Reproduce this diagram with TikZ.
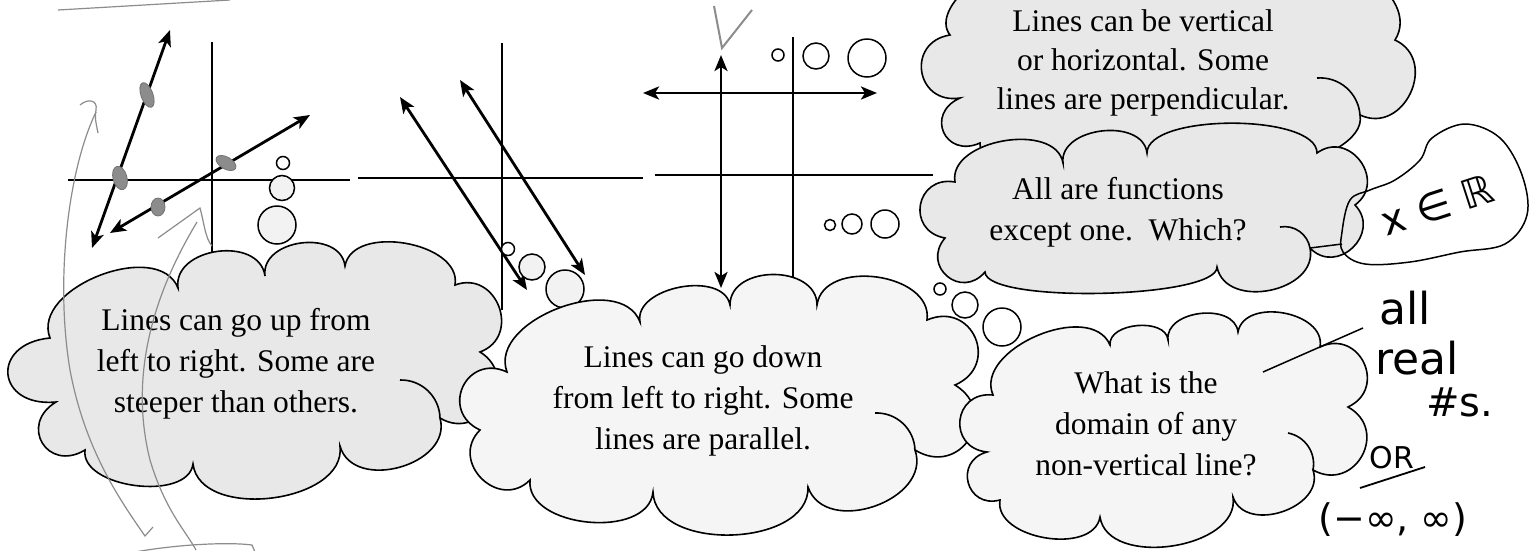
\documentclass[tikz,border=0pt]{standalone}
\usepackage{fontspec}
\setmainfont{Liberation Serif}
\newfontfamily\handfont{DejaVu Sans}
\usetikzlibrary{arrows.meta}
\tikzset{
  axisline/.style={line width=2.8pt},
  dbl/.style={line width=2.8pt,{Stealth[length=16pt,width=13pt,inset=4pt]}-{Stealth[length=16pt,width=13pt,inset=4pt]}},
  bubble/.style={circle,draw,line width=1.5pt,fill=black!5,inner sep=0pt},
  lobe/.style={bend left=90,looseness=#1},
  cloudline/.style={draw,line width=1.6pt,line join=miter},
  gray cloud/.style={cloudline,fill=black!9},
  light cloud/.style={cloudline,fill=black!4},
  innerarc/.style={draw,line width=1.6pt,bend left=45},
  say/.style={font=\fontsize{31.5}{41}\selectfont,align=center,inner sep=0pt},
  pencil/.style={draw=black!45,line width=1.2pt},
  ink/.style={font=\handfont\fontsize{40}{44}\selectfont,inner sep=0pt}
}
\begin{document}
\begin{tikzpicture}[x=1pt,y=-1pt]
\useasboundingbox (0,0) rectangle (1535,550);
\clip (0,0) rectangle (1535,550);
\fill[white] (0,0) rectangle (1535,550);

% ---------- axes ----------
\coordinate (x1a) at (68,180);  \coordinate (x1b) at (350,180);
\coordinate (x2a) at (358,178); \coordinate (x2b) at (643,178);
\coordinate (x3a) at (655,175); \coordinate (x3b) at (933,175);
\coordinate (y1a) at (212,42);  \coordinate (y1b) at (212,262);
\coordinate (y2a) at (502,43);  \coordinate (y2b) at (502,310);
\coordinate (y3a) at (793,37);  \coordinate (y3b) at (793,295);
\draw[axisline] (x1a) -- (x1b);
\draw[axisline] (x2a) -- (x2b);
\draw[axisline] (x3a) -- (x3b);
\draw[axisline] (y1a) -- (y1b);
\draw[axisline] (y2a) -- (y2b);
\draw[axisline] (y3a) -- (y3b);

% ---------- graph 1 lines ----------
\coordinate (s1a) at (92,248);  \coordinate (s1b) at (170,30);
\coordinate (s2a) at (110,233); \coordinate (s2b) at (310,115);
\draw[dbl] (s1a) -- (s1b);
\draw[dbl] (s2a) -- (s2b);
\fill[black!45,draw=black!55,line width=0.8pt,rotate around={20:(147,95)}] (147,95) ellipse [x radius=6, y radius=13];
\fill[black!45,draw=black!55,line width=0.8pt,rotate around={15:(120,178)}] (120,178) ellipse [x radius=7, y radius=12];
\fill[black!45,draw=black!55,line width=0.8pt,rotate around={-30:(226,163)}] (226,163) ellipse [x radius=11, y radius=6];
\fill[black!45,draw=black!55,line width=0.8pt] (158,207) ellipse [x radius=7, y radius=9];

% ---------- graph 2 lines ----------
\coordinate (d1a) at (400,97);  \coordinate (d1b) at (527,290);
\coordinate (d2a) at (460,80);  \coordinate (d2b) at (585,275);
\draw[dbl] (d1a) -- (d1b);
\draw[dbl] (d2a) -- (d2b);

% ---------- graph 3 lines ----------
\coordinate (h1a) at (643,93);  \coordinate (h1b) at (877,93);
\coordinate (v1a) at (721,55);  \coordinate (v1b) at (721,288);
\draw[dbl] (h1a) -- (h1b);
\draw[dbl] (v1a) -- (v1b);

% ---------- thought bubbles ----------
\node[bubble,fill=white,minimum size=13pt] (b11) at (283,163) {};
\node[bubble,minimum size=25pt] (b12) at (282,188) {};
\node[bubble,minimum size=38pt] (b13) at (277,225) {};
\node[bubble,fill=white,minimum size=13pt] (b21) at (508,249) {};
\node[bubble,minimum size=26pt] (b22) at (532,267) {};
\node[bubble,minimum size=38pt] (b23) at (565,289) {};
\node[bubble,fill=white,minimum size=12pt] (b31) at (778,55) {};
\node[bubble,fill=white,minimum size=26pt] (b32) at (816,56) {};
\node[bubble,fill=white,minimum size=38pt] (b33) at (867,58) {};
\node[bubble,fill=white,minimum size=11pt] (b41) at (830,225) {};
\node[bubble,fill=white,minimum size=20pt] (b42) at (852,224) {};
\node[bubble,fill=white,minimum size=28pt] (b43) at (885,224) {};
\node[bubble,fill=white,minimum size=12pt] (b51) at (940,289) {};
\node[bubble,fill=white,minimum size=26pt] (b52) at (965,305) {};
\node[bubble,fill=white,minimum size=38pt] (b53) at (1002,327) {};

% ---------- clouds ----------
% C1
\path[gray cloud] (50,338) to[lobe=1] (178,288) to[lobe=1.2] (265,276) to[lobe=1.2] (345,266)
  to[lobe=1] (455,285) to[lobe=1.6] (480,352) to[lobe=1.6] (440,418) to[lobe=1.2] (340,446)
  to[lobe=1] (193,464) to[lobe=0.9] (85,450) to[lobe=2] (56,402) to[lobe=2.4] cycle;
\path[innerarc] (400,380) to (440,418);
% C2
\path[light cloud] (507,372) to[lobe=1] (640,322) to[lobe=1] (730,305) to[lobe=1.2] (817,305)
  to[lobe=1.1] (927,320) to[lobe=1.8] (955,385) to[lobe=1.8] (915,450) to[lobe=1.2] (808,487)
  to[lobe=1] (653,492) to[lobe=1] (530,480) to[lobe=1.6] (480,430) to[lobe=1.8] cycle;
\path[innerarc] (875,413) to (915,450);
% C5
\path[light cloud] (993,395) to[lobe=1] (1110,345) to[lobe=1] (1168,340) to[lobe=1.1] (1238,332)
  to[lobe=1.1] (1320,347) to[lobe=1.7] (1348,407) to[lobe=1.7] (1313,470) to[lobe=1.2] (1233,497)
  to[lobe=1] (1100,517) to[lobe=1] (1000,500) to[lobe=1.8] (987,452) to[lobe=1.8] cycle;
\path[innerarc] (1288,433) to (1313,470);
% C3
\path[gray cloud] (950,35) to[lobe=1] (1020,-20) to[lobe=0.6] (1300,-20) to[lobe=1.2] (1395,40)
  to[lobe=1.5] (1360,115) to[lobe=0.7] (1180,150) to[lobe=0.7] (980,143) to[lobe=2] (960,98)
  to[lobe=1.8] cycle;
\path[innerarc] (1317,78) to (1360,115);
% C4
\path[gray cloud] (955,182) to[lobe=1] (1063,163) to[lobe=1.1] (1147,153) to[lobe=0.6] (1317,153)
  to[lobe=1.6] (1355,205) to[lobe=1.6] (1310,248) to[lobe=1.2] (1217,267) to[lobe=0.35] (985,272)
  to[lobe=1.8] (945,238) to[lobe=1.8] cycle;
\path[innerarc] (1280,227) to (1310,248);

\node[say] (t1) at (236,364) {Lines can go up from\\left to right. Some are\\steeper than others.};
\node[say] (t2) at (703,401) {Lines can go down\\from left to right. Some\\lines are parallel.};
\node[say,font=\fontsize{31.5}{39}\selectfont] (t3) at (1143,63) {Lines can be vertical\\or horizontal. Some\\lines are perpendicular.};
\node[say] (t4) at (1118,212) {All are functions\\except one.\ \ Which?};
\node[say] (t5) at (1146,424) {What is the\\domain of any\\non-vertical line?};

% ---------- pencil annotations ----------
\draw[pencil] (58,10) -- (230,0);
\draw[pencil,line width=2pt] (714,6) -- (722,48) -- (752,10);
\draw[pencil] (80,105) .. controls (88,98) and (98,100) .. (96,110) .. controls (95,118) .. (98,133);
\draw[pencil] (96,112) .. controls (68,170) and (55,280) .. (70,370) .. controls (85,450) and (120,500) .. (145,536) -- (153,527);
\draw[pencil] (158,238) -- (200,208) .. controls (204,222) and (205,238) .. (212,246);
\draw[pencil] (197,222) .. controls (150,300) and (130,380) .. (150,460) .. controls (165,510) and (185,530) .. (196,550);
\draw[pencil] (135,552) .. controls (180,544) and (230,542) .. (252,545) -- (255,552);

% ---------- ink annotations ----------
\draw[line width=1.5pt] (1310,248) -- (1342,244);
\draw[line width=1.5pt] plot[smooth cycle,tension=0.6] coordinates {(1342,232) (1350,200) (1370,190) (1395,180) (1420,160) (1432,138) (1465,124) (1500,138) (1522,175) (1527,215) (1505,244) (1460,252) (1410,262) (1365,264) (1343,252)};
\node[ink,rotate=18] (xr) at (1437,205) {x ∈ ℝ};
\draw[line width=1.5pt] (1263,372) -- (1363,328);
\node[ink,font=\handfont\fontsize{44}{44}\selectfont] (all) at (1405,308) {all};
\node[ink,font=\handfont\fontsize{44}{44}\selectfont] (real) at (1417,358) {real};
\node[ink] (nums) at (1460,402) {\#s.};
\node[ink,font=\handfont\fontsize{30}{30}\selectfont] (orw) at (1392,458) {OR};
\draw[line width=1.8pt] (1360,488) -- (1425,467);
\node[ink,font=\handfont\fontsize{38}{40}\selectfont] (inter) at (1393,520) {(−∞, ∞)};
\end{tikzpicture}
\end{document}
